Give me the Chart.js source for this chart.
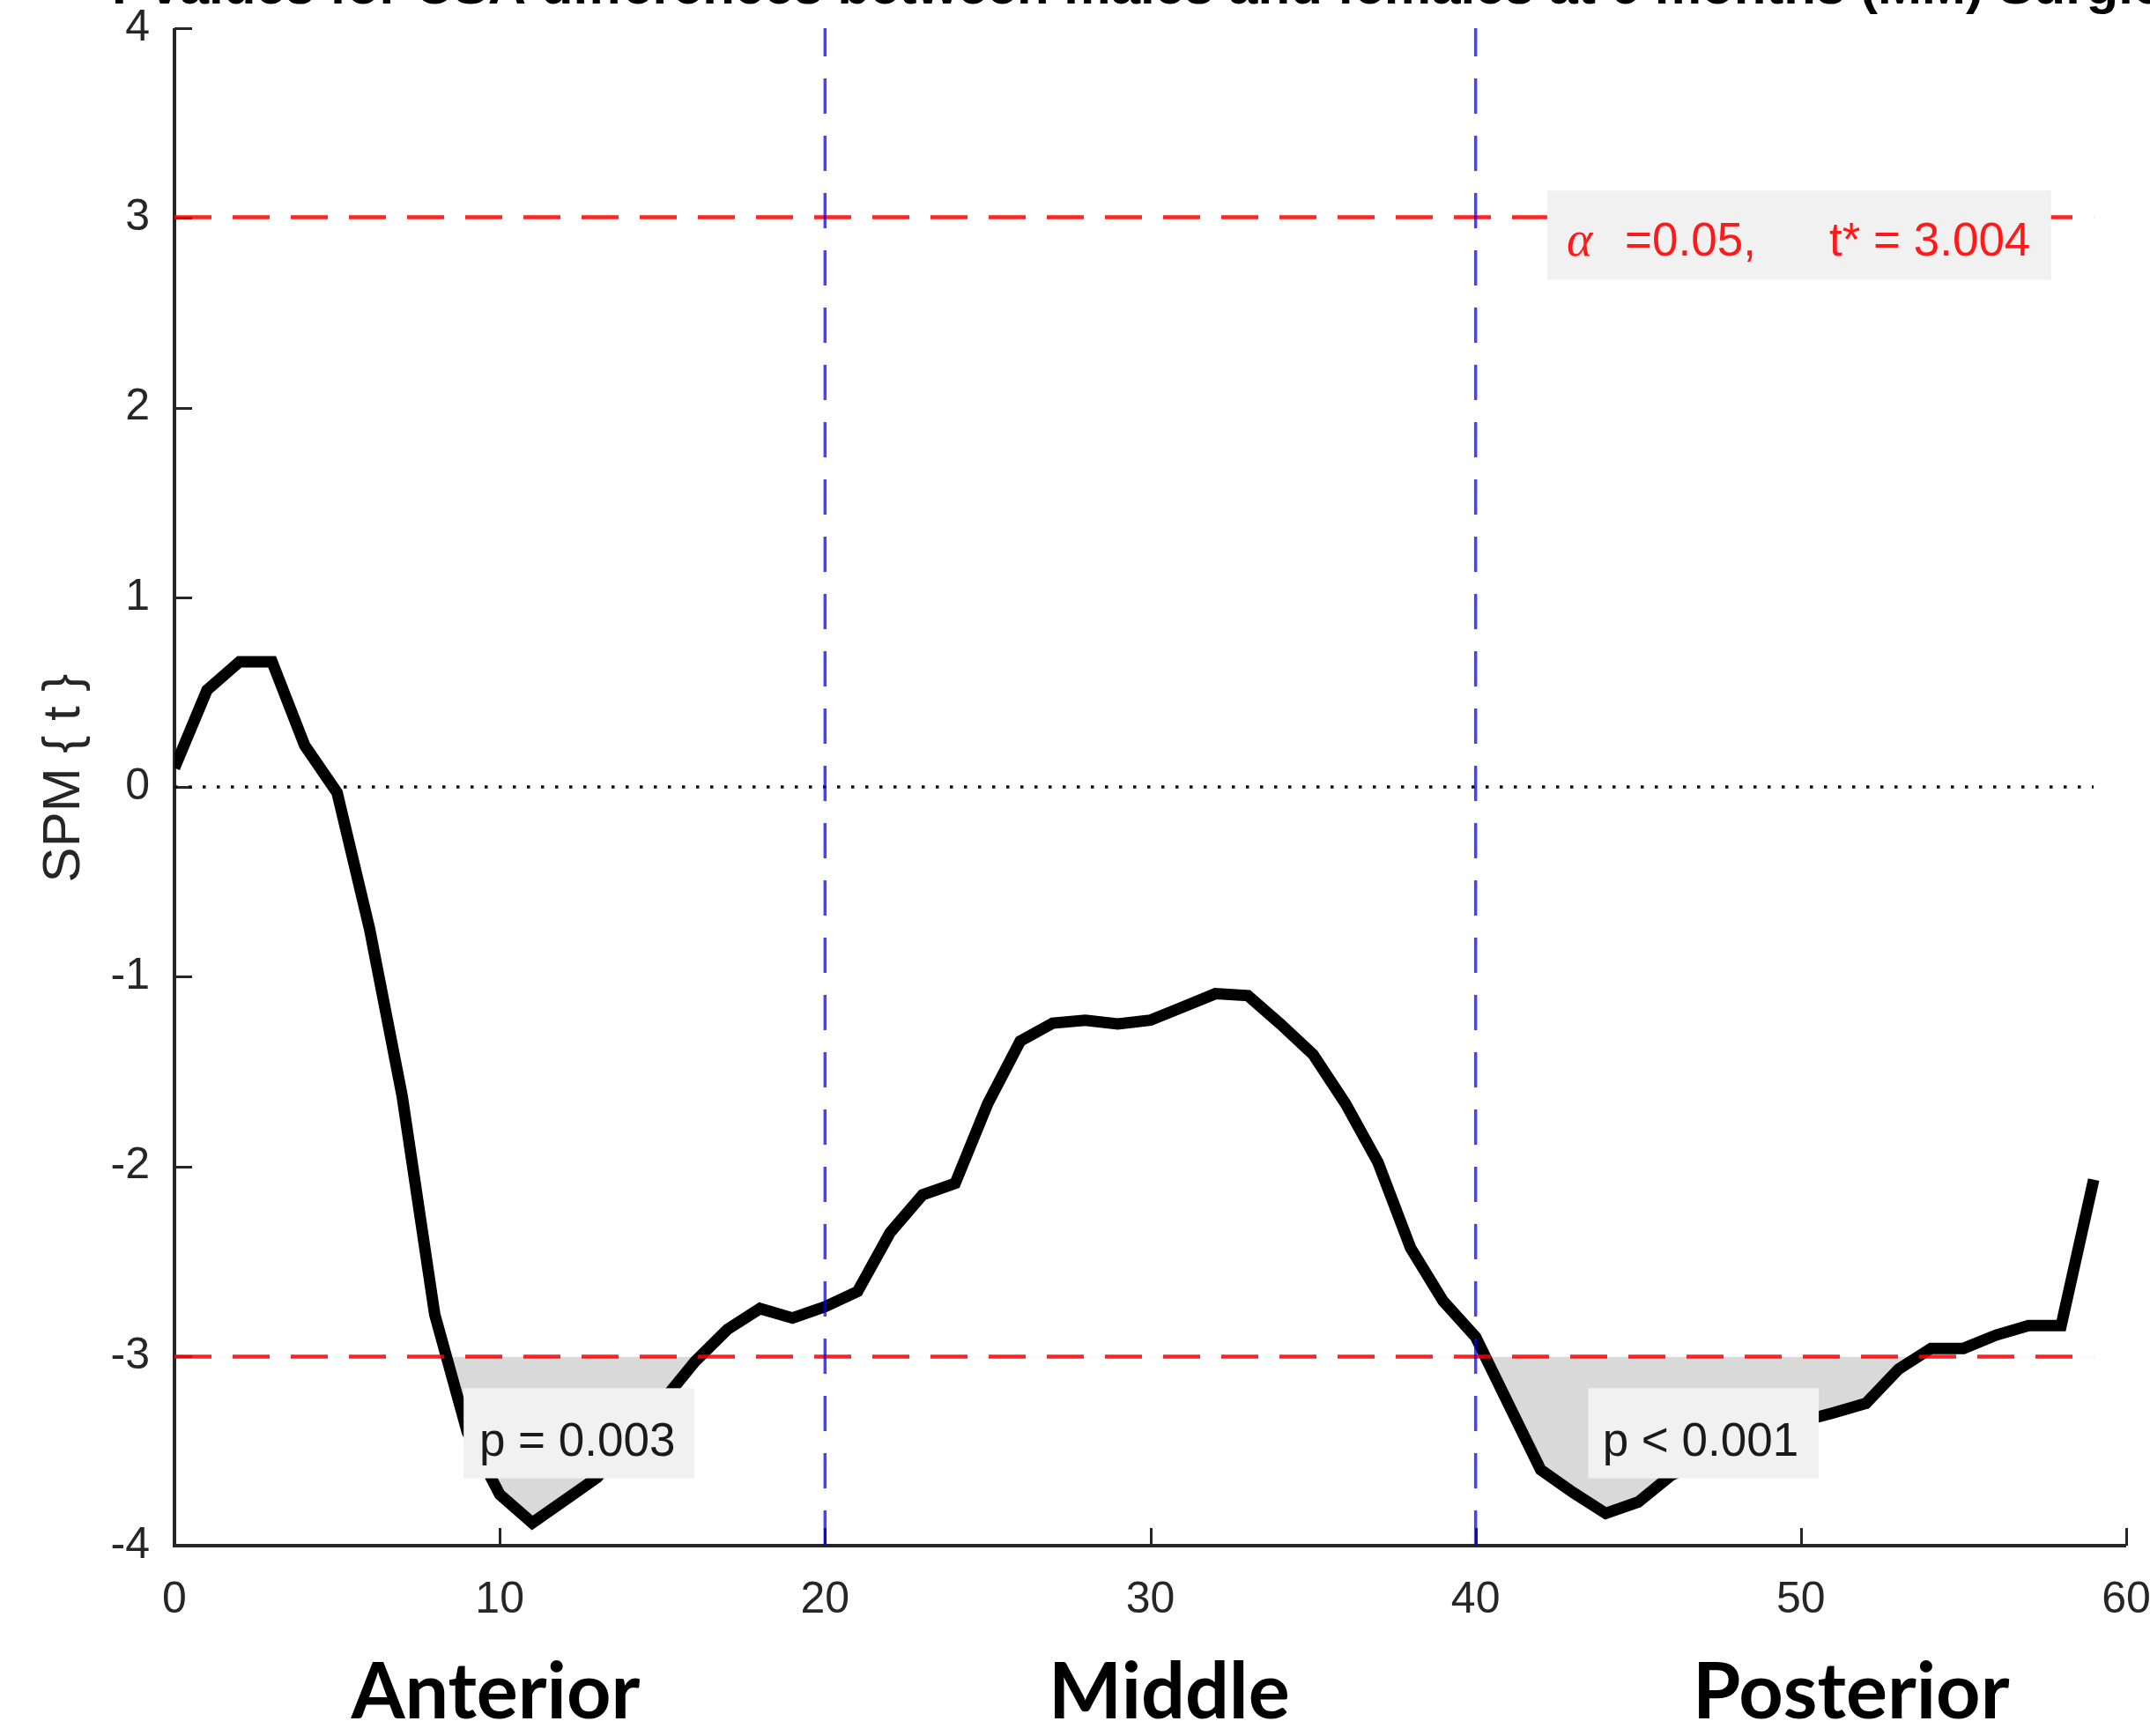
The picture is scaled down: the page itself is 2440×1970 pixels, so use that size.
<!DOCTYPE html>
<html>
<head>
<meta charset="utf-8">
<title>SPM{t} along the nerve</title>
<script src="https://cdn.jsdelivr.net/npm/chart.js@4.4.0/dist/chart.umd.min.js"></script>
<style>
  html, body { margin: 0; padding: 0; background: #ffffff; overflow: hidden; }
  canvas { display: block; }
</style>
</head>
<body>
<canvas id="spm" width="2440" height="1970"></canvas>
<script>
// ---- data -------------------------------------------------------------
const nodes = [0, 1, 2, 3, 4, 5, 6, 7, 8, 9,
               10, 11, 12, 13, 14, 15, 16, 17, 18, 19,
               20, 21, 22, 23, 24, 25, 26, 27, 28, 29,
               30, 31, 32, 33, 34, 35, 36, 37, 38, 39,
               40, 41, 42, 43, 44, 45, 46, 47, 48, 49,
               50, 51, 52, 53, 54, 55, 56, 57, 58, 59];

const tValues = [0.10, 0.51, 0.66, 0.66, 0.22, -0.03, -0.75, -1.63, -2.78, -3.40,
                 -3.73, -3.88, -3.76, -3.64, -3.43, -3.24, -3.03, -2.86, -2.75, -2.80,
                 -2.74, -2.66, -2.35, -2.15, -2.09, -1.67, -1.34, -1.245, -1.23, -1.25,
                 -1.23, -1.16, -1.09, -1.10, -1.25, -1.41, -1.67, -1.98, -2.43, -2.71,
                 -2.90, -3.25, -3.60, -3.72, -3.83, -3.77, -3.63, -3.55, -3.47, -3.40,
                 -3.345, -3.30, -3.25, -3.07, -2.96, -2.96, -2.89, -2.84, -2.84, -2.07];

const alphaLevel = 0.05;
const tCritical = 3.004;

const xTicks = [0, 10, 20, 30, 40, 50, 60];
const yTicks = [-4, -3, -2, -1, 0, 1, 2, 3, 4];

const segmentBounds = [20, 40];
const segmentNames = ['Anterior', 'Middle', 'Posterior'];
const segmentCentres = [9.87, 30.58, 51.54];

const clusterPValues = ['p = 0.003', 'p < 0.001'];

const titleText = 'T values for CSA differences between males and females at 6 months (MM) Surgical';
const yTitleText = 'SPM { t }';

// ---- layout of annotation boxes (data units) ----------------------------
const clusterBoxes = [
  { x0: 8.89, x1: 15.98, y0: -3.17, y1: -3.645, tx: 9.37, ty: -3.525 },
  { x0: 43.46, x1: 50.55, y0: -3.17, y1: -3.645, tx: 43.9, ty: -3.525 }
];
const thresholdBox = { x0: 42.2, x1: 57.69, y0: 3.144, y1: 2.674,
                       alphaX: 42.8, eqX: 44.59, tX: 50.87, ty: 2.80 };

// ---- styling ----------------------------------------------------------
const AXIS = '#262626';
const SANS = "'Liberation Sans', Arial, Helvetica, sans-serif";

const decor = {
  id: 'decor',
  beforeDatasetsDraw(chart) {
    const { ctx, chartArea: a, scales: { x, y } } = chart;
    ctx.save();
    ctx.strokeStyle = AXIS;
    ctx.lineWidth = 3;
    // inward tick marks
    yTicks.forEach(v => {
      const py = Math.round(y.getPixelForValue(v)) + 0.5;
      ctx.beginPath(); ctx.moveTo(a.left, py); ctx.lineTo(a.left + 20, py); ctx.stroke();
    });
    xTicks.forEach(v => {
      const px = Math.round(x.getPixelForValue(v)) + 0.5;
      ctx.beginPath(); ctx.moveTo(px, a.bottom); ctx.lineTo(px, a.bottom - 20); ctx.stroke();
    });
    // axis lines (no box)
    ctx.lineWidth = 4;
    ctx.beginPath();
    ctx.moveTo(a.left, a.top);
    ctx.lineTo(a.left, a.bottom);
    ctx.lineTo(a.right, a.bottom);
    ctx.stroke();
    ctx.restore();
  },
  afterDatasetsDraw(chart) {
    const { ctx, scales: { x, y } } = chart;
    ctx.save();
    // cluster p-value labels
    clusterBoxes.forEach((b, i) => {
      const l = x.getPixelForValue(b.x0), r = x.getPixelForValue(b.x1);
      const t = y.getPixelForValue(b.y0), btm = y.getPixelForValue(b.y1);
      ctx.fillStyle = '#f1f1f1';
      ctx.fillRect(l, t, r - l, btm - t);
      ctx.fillStyle = '#1a1a1a';
      ctx.font = '53px ' + SANS;
      ctx.textAlign = 'left';
      ctx.textBaseline = 'alphabetic';
      ctx.fillText(clusterPValues[i], x.getPixelForValue(b.tx), y.getPixelForValue(b.ty));
    });
    // critical threshold label
    const b = thresholdBox;
    const l = x.getPixelForValue(b.x0), r = x.getPixelForValue(b.x1);
    const t = y.getPixelForValue(b.y0), btm = y.getPixelForValue(b.y1);
    ctx.fillStyle = '#f1f1f1';
    ctx.fillRect(l, t, r - l, btm - t);
    ctx.fillStyle = '#ff1a1a';
    ctx.textAlign = 'left';
    ctx.textBaseline = 'alphabetic';
    const ty = y.getPixelForValue(b.ty);
    ctx.font = "italic 56px 'Liberation Serif', 'Times New Roman', serif";
    ctx.fillText('\u03B1', x.getPixelForValue(b.alphaX), ty);
    ctx.font = '53px ' + SANS;
    ctx.fillText('=' + alphaLevel.toFixed(2) + ',', x.getPixelForValue(b.eqX), ty);
    ctx.fillText('t* = ' + tCritical.toFixed(3), x.getPixelForValue(b.tX), ty);
    ctx.restore();
  },
  afterDraw(chart) {
    const { ctx, chartArea: a, scales: { x, y } } = chart;
    ctx.save();
    // figure title (runs past the top edge)
    ctx.fillStyle = '#000000';
    ctx.font = 'bold 60px ' + SANS;
    ctx.textAlign = 'left';
    ctx.textBaseline = 'alphabetic';
    ctx.fillText(titleText, 117, 4);
    // y axis title
    ctx.save();
    ctx.translate(73, (a.top + a.bottom) / 2 - 10);
    ctx.rotate(-Math.PI / 2);
    ctx.fillStyle = AXIS;
    ctx.font = '60px ' + SANS;
    ctx.textAlign = 'center';
    ctx.textBaseline = 'middle';
    ctx.fillText(yTitleText, 0, 0);
    ctx.restore();
    // segment names under the axis
    ctx.fillStyle = '#000000';
    ctx.font = "bold 88px Lato, 'Open Sans', sans-serif";
    ctx.textAlign = 'center';
    ctx.textBaseline = 'alphabetic';
    segmentNames.forEach((name, i) => {
      ctx.fillText(name, x.getPixelForValue(segmentCentres[i]), 1950);
    });
    ctx.restore();
  }
};

const lastNode = nodes[nodes.length - 1];
const curve = nodes.map((n, i) => ({ x: n, y: tValues[i] }));
const span = (v) => [{ x: nodes[0], y: v }, { x: lastNode, y: v }];
const vertical = (v) => [{ x: v, y: yTicks[0] }, { x: v, y: yTicks[yTicks.length - 1] }];

const datasets = [
  {
    label: 'SPM{t}',
    data: curve,
    borderColor: '#000000',
    borderWidth: 13,
    borderJoinStyle: 'miter',
    pointRadius: 0,
    tension: 0,
    fill: { target: { value: -tCritical }, above: 'rgba(0,0,0,0)', below: '#d9d9d9' },
    order: 10
  },
  {
    label: 'zero',
    data: span(0),
    borderColor: '#111111',
    borderWidth: 3.5,
    borderDash: [3.5, 12.5],
    pointRadius: 0,
    fill: false,
    order: 9
  },
  {
    label: 'upper threshold',
    data: span(tCritical),
    borderColor: 'rgba(255,0,0,0.86)',
    borderWidth: 4.5,
    borderDash: [42, 24],
    pointRadius: 0,
    fill: false,
    order: 3
  },
  {
    label: 'lower threshold',
    data: span(-tCritical),
    borderColor: 'rgba(255,0,0,0.86)',
    borderWidth: 4.5,
    borderDash: [42, 24],
    pointRadius: 0,
    fill: false,
    order: 3
  },
  ...segmentBounds.map(v => ({
    label: 'boundary ' + v,
    data: vertical(v),
    borderColor: 'rgba(0,0,255,0.74)',
    borderWidth: 3.5,
    borderDash: [40, 25],
    pointRadius: 0,
    fill: false,
    order: 1
  }))
];

new Chart(document.getElementById('spm'), {
  type: 'line',
  data: { datasets },
  options: {
    responsive: false,
    animation: false,
    devicePixelRatio: 1,
    layout: { padding: { left: 0, right: 27, top: 32, bottom: 0 } },
    plugins: { legend: { display: false }, tooltip: { enabled: false }, title: { display: false } },
    scales: {
      x: {
        type: 'linear',
        min: xTicks[0],
        max: xTicks[xTicks.length - 1],
        afterBuildTicks: s => { s.ticks = xTicks.map(v => ({ value: v })); },
        afterFit: s => { s.height = 216; s.paddingLeft = 0; s.paddingRight = 0; },
        grid: { display: false, drawTicks: false },
        border: { display: false },
        ticks: { color: AXIS, font: { family: SANS, size: 50 }, padding: 32, maxRotation: 0, autoSkip: false }
      },
      y: {
        type: 'linear',
        min: yTicks[0],
        max: yTicks[yTicks.length - 1],
        afterBuildTicks: s => { s.ticks = yTicks.map(v => ({ value: v })); },
        afterFit: s => { s.width = 198; s.paddingTop = 0; s.paddingBottom = 0; },
        grid: { display: false, drawTicks: false },
        border: { display: false },
        ticks: { color: AXIS, font: { family: SANS, size: 50 }, padding: 28, autoSkip: false }
      }
    }
  },
  plugins: [decor]
});
</script>
</body>
</html>
